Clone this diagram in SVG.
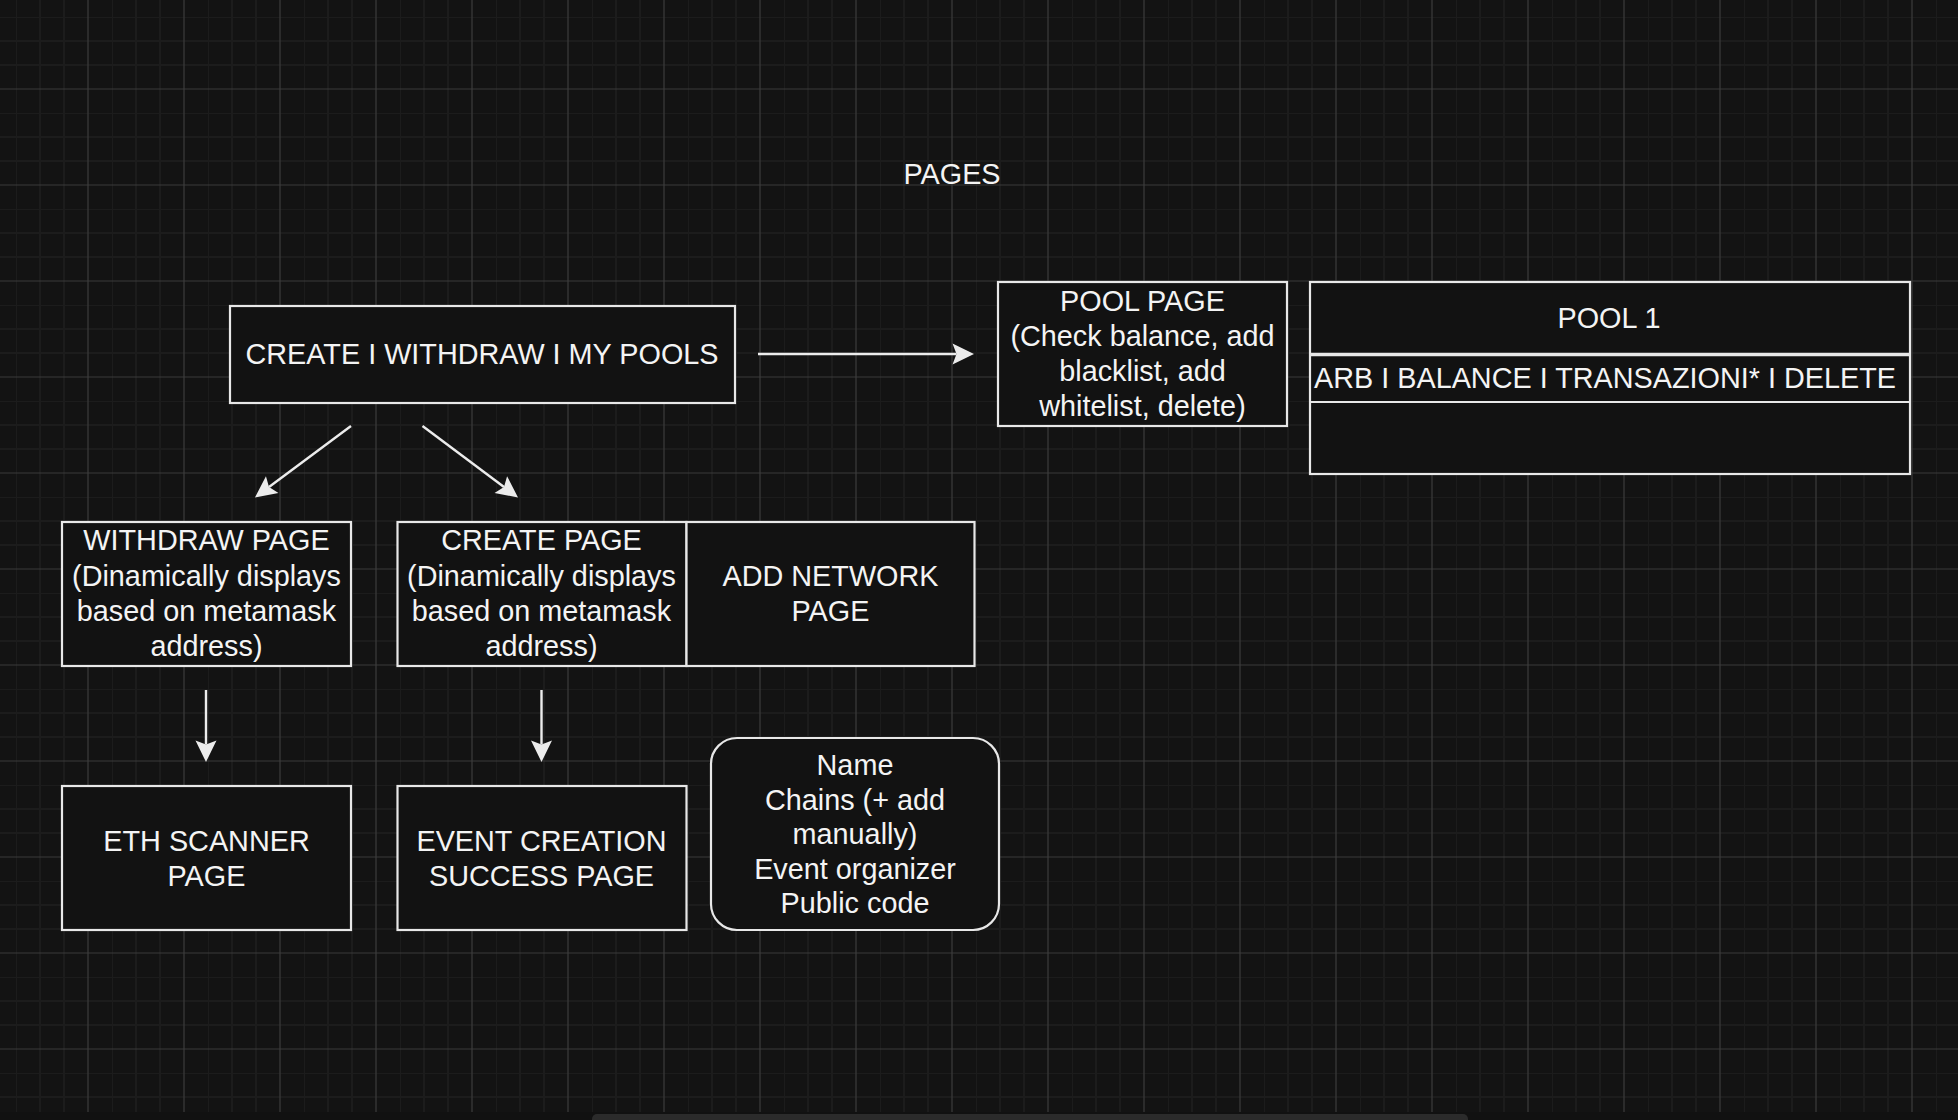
<svg xmlns="http://www.w3.org/2000/svg" width="1958" height="1120" viewBox="0 0 1958 1120">
  <style>
    .box { fill: #121212; stroke: #e8e8e8; stroke-width: 2.2; }
    .t { font-family: "Liberation Sans", Arial, Helvetica, sans-serif; font-size: 28.8px; fill: #f4f4f4; text-anchor: middle; }
    .edge { fill: none; stroke: #ececec; stroke-width: 2.4; marker-end: url(#arrow); }
  </style>
  <defs>
    <pattern id="grid" patternUnits="userSpaceOnUse" x="16" y="17" width="96" height="96">
      <path d="M0 0V96M24 0V96M48 0V96M0 0H96M0 24H96M0 48H96" stroke="#1c1c1c" stroke-width="2" fill="none"/>
      <path d="M72 0V96M0 72H96" stroke="#3a3a3a" stroke-width="1.2" fill="none"/>
    </pattern>
    <marker id="arrow" markerUnits="userSpaceOnUse" markerWidth="30" markerHeight="30" viewBox="-2 -15 30 30" refX="4" refY="0" orient="auto" overflow="visible">
      <path d="M0 -10.5 L21.5 0 L0 10.5 L4 0 Z" fill="#ececec"/>
    </marker>
  </defs>

  <rect x="0" y="0" width="1958" height="1120" fill="#131313"/>
  <rect x="0" y="0" width="1958" height="1112" fill="url(#grid)"/>
  <rect x="0" y="1112" width="1958" height="8" fill="#111111"/>
  <rect x="592" y="1114" width="876" height="10" rx="5" fill="#2b2b2b"/>

  <text class="t" x="952" y="184">PAGES</text>

  <g id="connectors">
    <path class="edge" d="M758 354 L956.5 354"/>
    <path class="edge" d="M351 426 L269 487"/>
    <path class="edge" d="M422.5 426 L504 487"/>
    <path class="edge" d="M206 690 L206 744.5"/>
    <path class="edge" d="M541.5 690 L541.5 744.5"/>
  </g>

  <g id="menu">
    <rect class="box" x="230" y="306" width="505" height="97"/>
    <text class="t" x="482" y="364">CREATE I WITHDRAW I MY POOLS</text>
  </g>

  <g id="pool-page">
    <rect class="box" x="998" y="282" width="289" height="144"/>
    <text class="t" x="1142.5" y="310.5">POOL PAGE</text>
    <text class="t" x="1142.5" y="345.5">(Check balance, add</text>
    <text class="t" x="1142.5" y="380.5">blacklist, add</text>
    <text class="t" x="1142.5" y="415.5">whitelist, delete)</text>
  </g>

  <g id="pool-1">
    <rect class="box" x="1310" y="282" width="600" height="192"/>
    <line x1="1310" y1="354.5" x2="1910" y2="354.5" stroke="#e8e8e8" stroke-width="3.5"/>
    <line x1="1310" y1="402" x2="1910" y2="402" stroke="#e8e8e8" stroke-width="2.2"/>
    <text class="t" x="1609" y="328">POOL 1</text>
    <text class="t" x="1605" y="387.5">ARB I BALANCE I TRANSAZIONI* I DELETE</text>
  </g>

  <g id="withdraw-page">
    <rect class="box" x="62" y="522" width="289" height="144"/>
    <text class="t" x="206.5" y="550">WITHDRAW PAGE</text>
    <text class="t" x="206.5" y="585.5">(Dinamically displays</text>
    <text class="t" x="206.5" y="620.5">based on metamask</text>
    <text class="t" x="206.5" y="655.5">address)</text>
  </g>

  <g id="create-page">
    <rect class="box" x="397.5" y="522" width="289" height="144"/>
    <text class="t" x="541.5" y="550">CREATE PAGE</text>
    <text class="t" x="541.5" y="585.5">(Dinamically displays</text>
    <text class="t" x="541.5" y="620.5">based on metamask</text>
    <text class="t" x="541.5" y="655.5">address)</text>
  </g>

  <g id="add-network-page">
    <rect class="box" x="686.5" y="522" width="288" height="144"/>
    <text class="t" x="830.5" y="585.5">ADD NETWORK</text>
    <text class="t" x="830.5" y="620.5">PAGE</text>
  </g>

  <g id="eth-scanner-page">
    <rect class="box" x="62" y="786" width="289" height="144"/>
    <text class="t" x="206.5" y="850.5">ETH SCANNER</text>
    <text class="t" x="206.5" y="885.5">PAGE</text>
  </g>

  <g id="event-success-page">
    <rect class="box" x="397.5" y="786" width="289" height="144"/>
    <text class="t" x="541.5" y="850.5">EVENT CREATION</text>
    <text class="t" x="541.5" y="885.5">SUCCESS PAGE</text>
  </g>

  <g id="event-fields">
    <rect class="box" x="711" y="738" width="288" height="192" rx="26" ry="26"/>
    <text class="t" x="855" y="775">Name</text>
    <text class="t" x="855" y="809.5">Chains (+ add</text>
    <text class="t" x="855" y="844">manually)</text>
    <text class="t" x="855" y="878.5">Event organizer</text>
    <text class="t" x="855" y="913">Public code</text>
  </g>
</svg>
